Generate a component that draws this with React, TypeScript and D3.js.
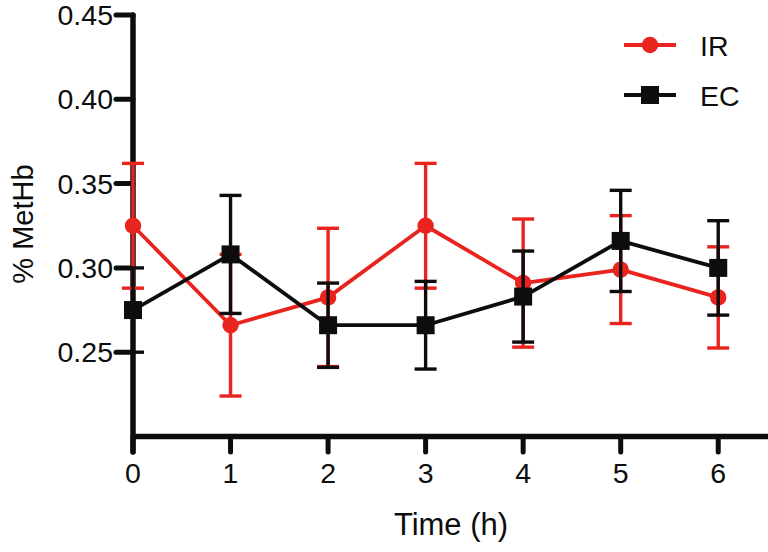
import React from "react";
import * as d3 from "d3";

const times = [0, 1, 2, 3, 4, 5, 6];
const irMean = [0.325, 0.266, 0.2825, 0.325, 0.291, 0.299, 0.2825];
const irErr = [0.037, 0.042, 0.041, 0.037, 0.038, 0.032, 0.03];
const ecMean = [0.275, 0.308, 0.266, 0.266, 0.283, 0.316, 0.3];
const ecErr = [0.025, 0.035, 0.025, 0.026, 0.027, 0.03, 0.028];
const yTicks = [0.25, 0.3, 0.35, 0.4, 0.45];
const xTicks = [0, 1, 2, 3, 4, 5, 6];

const W = 768;
const H = 552;
const RED = "#e9241e";
const BLACK = "#0d0d0d";
const FONT = "'Liberation Sans', Arial, Helvetica, sans-serif";

export default function App() {
  const x = d3.scaleLinear().domain([0, 6.5]).range([133, 767]);
  const y = d3.scaleLinear().domain([0.2, 0.45]).range([436.5, 15]);
  const line = d3
    .line<number>()
    .x((_, i) => x(times[i]))
    .y((d) => y(d));

  const series = [
    { name: "IR", mean: irMean, err: irErr, color: RED, marker: "circle" },
    { name: "EC", mean: ecMean, err: ecErr, color: BLACK, marker: "square" },
  ];

  const capHalf = 11;
  const R = 8.2;
  const S = 18;

  return (
    <svg
      width={W}
      height={H}
      style={{ position: "absolute", left: 0, top: 0, background: "#fff" }}
      fontFamily={FONT}
    >
      <rect x={0} y={0} width={W} height={H} fill="#fff" />
      {/* axes */}
      <line x1={x(0)} x2={x(0)} y1={y(0.45)} y2={452} stroke={BLACK} strokeWidth={5.5} strokeLinecap="round" />
      <line x1={x(0)} x2={768} y1={y(0.2)} y2={y(0.2)} stroke={BLACK} strokeWidth={5.5} />
      {yTicks.map((t) => (
        <g key={"y" + t}>
          <line x1={116} x2={x(0)} y1={y(t)} y2={y(t)} stroke={BLACK} strokeWidth={5} strokeLinecap="round" />
          <text x={113} y={y(t) + 10} textAnchor="end" fontSize={28.5} fill={BLACK}>
            {t.toFixed(2)}
          </text>
        </g>
      ))}
      {xTicks.map((t) => (
        <g key={"x" + t}>
          <line x1={x(t)} x2={x(t)} y1={y(0.2)} y2={452} stroke={BLACK} strokeWidth={5} strokeLinecap="round" />
          <text x={x(t)} y={483} textAnchor="middle" fontSize={28.5} fill={BLACK}>
            {t}
          </text>
        </g>
      ))}
      <text x={451} y={535} textAnchor="middle" fontSize={31} fill={BLACK}>
        Time (h)
      </text>
      <text
        transform={`translate(33, 224) rotate(-90)`}
        textAnchor="middle"
        fontSize={29}
        fill={BLACK}
      >
        % MetHb
      </text>

      {/* series */}
      {series.map((s) => (
        <g key={s.name}>
          {s.mean.map((m, i) => {
            const cx = x(times[i]);
            const top = y(m + s.err[i]);
            const bot = y(m - s.err[i]);
            return (
              <g key={i} stroke={s.color} strokeWidth={3.4}>
                <line x1={cx} x2={cx} y1={top} y2={bot} />
                <line x1={cx - capHalf} x2={cx + capHalf} y1={top} y2={top} />
                <line x1={cx - capHalf} x2={cx + capHalf} y1={bot} y2={bot} />
              </g>
            );
          })}
          <path d={line(s.mean) || ""} fill="none" stroke={s.color} strokeWidth={3.8} strokeLinejoin="round" />
          {s.mean.map((m, i) =>
            s.marker === "circle" ? (
              <circle key={i} cx={x(times[i])} cy={y(m)} r={R} fill={s.color} />
            ) : (
              <rect key={i} x={x(times[i]) - S / 2} y={y(m) - S / 2} width={S} height={S} fill={s.color} />
            )
          )}
        </g>
      ))}

      {/* legend */}
      <g>
        <line x1={624} x2={676} y1={45} y2={45} stroke={RED} strokeWidth={3.8} />
        <circle cx={650} cy={45} r={R} fill={RED} />
        <text x={700} y={56} fontSize={28.5} fill={BLACK}>
          IR
        </text>
        <line x1={624} x2={676} y1={95} y2={95} stroke={BLACK} strokeWidth={3.8} />
        <rect x={650 - S / 2} y={95 - S / 2} width={S} height={S} fill={BLACK} />
        <text x={700} y={106} fontSize={28.5} fill={BLACK}>
          EC
        </text>
      </g>
    </svg>
  );
}
